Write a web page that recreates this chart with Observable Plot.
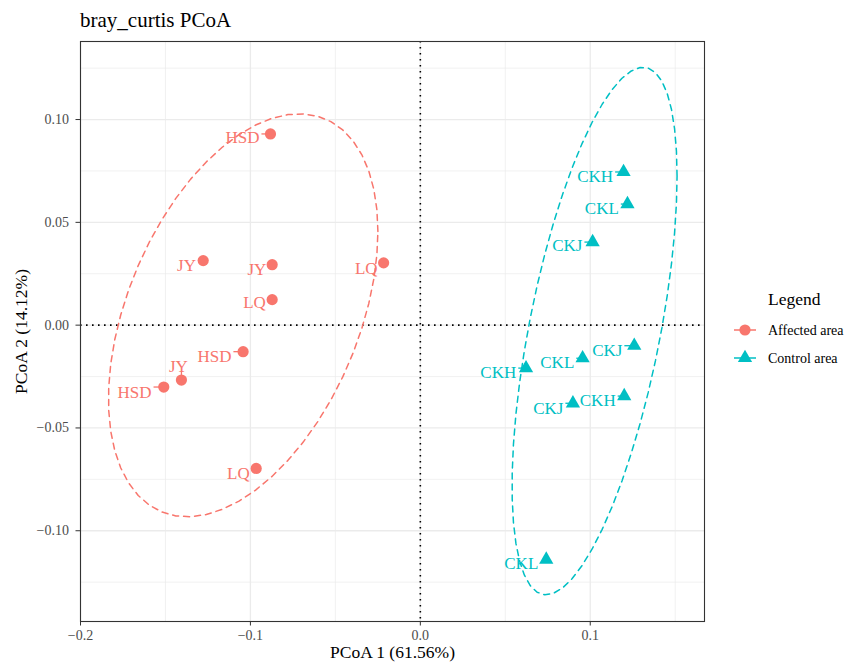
<!DOCTYPE html>
<html><head><meta charset="utf-8">
<script src="https://cdn.jsdelivr.net/npm/d3@7"></script>
<script src="https://cdn.jsdelivr.net/npm/@observablehq/plot@0.6"></script>
<style>
body{margin:0;background:#fff}
#wrap{position:relative;width:848px;height:664px;overflow:hidden}
#wrap svg{display:block}
#overlay{position:absolute;left:0;top:0}
</style>
</head><body><div id="wrap"></div>
<script>
// ---- data ----
const sampleNames = ["HSD","JY","JY","LQ","LQ","HSD","JY","HSD","LQ",
                     "CKH","CKL","CKJ","CKJ","CKL","CKH","CKJ","CKH","CKL"];
const groupNames = ["Affected area","Affected area","Affected area","Affected area","Affected area","Affected area","Affected area","Affected area","Affected area",
                    "Control area","Control area","Control area","Control area","Control area","Control area","Control area","Control area","Control area"];
const pcoa1 = [-0.0882,-0.1278,-0.0872,-0.0216,-0.0872,-0.1043,-0.1406,-0.1510,-0.0966,
               0.1196,0.1219,0.1014,0.1259,0.0955,0.0622,0.0898,0.1200,0.0741];
const pcoa2 = [0.0930,0.0314,0.0294,0.0303,0.0124,-0.0129,-0.0267,-0.0301,-0.0697,
               0.0745,0.0589,0.0404,-0.0100,-0.0161,-0.0209,-0.0380,-0.0345,-0.1140];
// repelled label positions (as placed in the reference)
const labelPcoa1 = [-0.1047,-0.1376,-0.0962,-0.0318,-0.0976,-0.1212,-0.1424,-0.1682,-0.1071,
                    0.1029,0.1068,0.0865,0.1100,0.0806,0.0459,0.0753,0.1044,0.0594];
const labelPcoa2 = [0.0912,0.0290,0.0270,0.0275,0.0109,-0.0151,-0.0200,-0.0326,-0.0720,
                    0.0725,0.0569,0.0387,-0.0124,-0.0180,-0.0231,-0.0404,-0.0367,-0.1161];
const legendGroups = ["Affected area","Control area"];
const groupColors = ["#F8766D","#00BFC4"];
const xTicks = [-0.2,-0.1,0,0.1];
const xMinor = [-0.15,-0.05,0.05,0.15];
const yTicks = [-0.10,-0.05,0,0.05,0.10];
const yMinor = [-0.125,-0.075,-0.025,0.025,0.075,0.125];
const xDomain = [-0.2, 0.16724];
const yDomain = [-0.14414, 0.13796];
const ellipseLevel = 0.9;
const titleText = "bray_curtis PCoA";
const xTitle = "PCoA 1 (61.56%)";
const yTitle = "PCoA 2 (14.12%)";
const legendTitle = "Legend";

// ---- layout ----
const W = 848, H = 664, mL = 80, mR = 144, mT = 41, mB = 43;
const FONT = "'Liberation Serif','Times New Roman',serif";
const LABEL_SIZE = 17;

const rows = sampleNames.map((s,i)=>({sample:s, group:groupNames[i], x:pcoa1[i], y:pcoa2[i], lx:labelPcoa1[i], ly:labelPcoa2[i]}));

// ---- stat_ellipse (type "t") ----
function covTrob(pts, nu=5, maxit=25, tol=0.01){
  const n = pts.length, p = 2;
  let loc = [d3.mean(pts,d=>d[0]), d3.mean(pts,d=>d[1])];
  let w = new Array(n).fill(1);
  let X;
  for (let it=0; it<maxit; it++){
    const w0 = w.slice();
    X = pts.map(d=>[d[0]-loc[0], d[1]-loc[1]]);
    const sw = d3.sum(w);
    let a=0,b=0,c=0;
    X.forEach((v,i)=>{const f=w[i]/sw; a+=f*v[0]*v[0]; b+=f*v[0]*v[1]; c+=f*v[1]*v[1];});
    const det = a*c-b*b;
    const Q = X.map(v=>(c*v[0]*v[0]-2*b*v[0]*v[1]+a*v[1]*v[1])/det);
    w = Q.map(q=>(nu+p)/(nu+q));
    const sW = d3.sum(w);
    loc = [d3.sum(pts,(d,i)=>w[i]*d[0])/sW, d3.sum(pts,(d,i)=>w[i]*d[1])/sW];
    if (w.every((v,i)=>Math.abs(v-w0[i])<tol)) break;
  }
  let a=0,b=0,c=0;
  X.forEach((v,i)=>{a+=w[i]*v[0]*v[0]; b+=w[i]*v[0]*v[1]; c+=w[i]*v[1]*v[1];});
  return {cov:[a/n,b/n,c/n], center:loc};
}
// F quantile, solved numerically
function qF(level,d1,d2){
  function betacf(a,b,x){let qab=a+b,qap=a+1,qam=a-1,c=1,d=1-qab*x/qap;if(Math.abs(d)<1e-30)d=1e-30;d=1/d;let h=d;
    for(let m=1;m<=200;m++){let m2=2*m,aa=m*(b-m)*x/((qam+m2)*(a+m2));d=1+aa*d;if(Math.abs(d)<1e-30)d=1e-30;c=1+aa/c;if(Math.abs(c)<1e-30)c=1e-30;d=1/d;h*=d*c;
      aa=-(a+m)*(qab+m)*x/((a+m2)*(qap+m2));d=1+aa*d;if(Math.abs(d)<1e-30)d=1e-30;c=1+aa/c;if(Math.abs(c)<1e-30)c=1e-30;d=1/d;const del=d*c;h*=del;if(Math.abs(del-1)<1e-12)break;}return h;}
  function lgamma(z){const g=[76.18009172947146,-86.50532032941677,24.01409824083091,-1.231739572450155,0.1208650973866179e-2,-0.5395239384953e-5];let x=z,y=z,t=x+5.5;t-=(x+0.5)*Math.log(t);let s=1.000000000190015;for(let j=0;j<6;j++)s+=g[j]/++y;return -t+Math.log(2.5066282746310005*s/x);}
  function ibeta(a,b,x){if(x<=0)return 0;if(x>=1)return 1;const bt=Math.exp(lgamma(a+b)-lgamma(a)-lgamma(b)+a*Math.log(x)+b*Math.log(1-x));
    return x<(a+1)/(a+b+2)?bt*betacf(a,b,x)/a:1-bt*betacf(b,a,1-x)/b;}
  const cdf = f=>ibeta(d1/2,d2/2,d1*f/(d1*f+d2));
  let lo=0,hi=1000;for(let i=0;i<200;i++){const mid=(lo+hi)/2;if(cdf(mid)<level)lo=mid;else hi=mid;}return (lo+hi)/2;
}
const ellipseRows = [];
legendGroups.forEach(g=>{
  const pts = rows.filter(r=>r.group===g).map(r=>[r.x,r.y]);
  const {cov,center} = covTrob(pts);
  const r11=Math.sqrt(cov[0]), r12=cov[1]/r11, r22=Math.sqrt(cov[2]-r12*r12);
  const radius = Math.sqrt(2*qF(ellipseLevel, 2, pts.length-1));
  const seg = 51;
  for(let k=0;k<=seg;k++){
    const t = k*2*Math.PI/seg, cs=Math.cos(t), sn=Math.sin(t);
    ellipseRows.push({group:g, x:center[0]+radius*cs*r11, y:center[1]+radius*(cs*r12+sn*r22)});
  }
});

// ---- repel segments (point -> nearest edge of label box) ----
const xs = d3.scaleLinear(xDomain,[mL,W-mR]);
const ys = d3.scaleLinear(yDomain,[H-mB,mT]);
const ctx = document.createElement("canvas").getContext("2d");
ctx.font = `${LABEL_SIZE}px 'Liberation Serif'`;
const segRows = [];
rows.forEach(r=>{
  const px=xs(r.x), py=ys(r.y), cx=xs(r.lx), cy=ys(r.ly);
  const hw = ctx.measureText(r.sample).width/2 + 2, hh = 5.5;
  const ex = Math.max(cx-hw, Math.min(cx+hw, px));
  const ey = Math.max(cy-hh, Math.min(cy+hh, py));
  if (Math.hypot(ex-px, ey-py) > 6) segRows.push({group:r.group, x1:r.x, y1:r.y, x2:xs.invert(ex), y2:ys.invert(ey)});
});

const minus = s=>s.replace("-","\u2212");
const colorScale = {domain:legendGroups, range:groupColors};

const plot = Plot.plot({
  width: W, height: H,
  marginLeft: mL, marginRight: mR, marginTop: mT, marginBottom: mB,
  style: {fontFamily: FONT, background: "white"},
  x: {domain: xDomain},
  y: {domain: yDomain},
  color: colorScale,
  marks: [
    Plot.ruleX(xMinor, {stroke:"#EBEBEB", strokeWidth:0.7}),
    Plot.ruleY(yMinor, {stroke:"#EBEBEB", strokeWidth:0.7}),
    Plot.ruleX(xTicks, {stroke:"#EBEBEB", strokeWidth:1.3}),
    Plot.ruleY(yTicks, {stroke:"#EBEBEB", strokeWidth:1.3}),
    Plot.ruleX([0], {stroke:"black", strokeWidth:1.6, strokeDasharray:"1.6,4.4"}),
    Plot.ruleY([0], {stroke:"black", strokeWidth:1.6, strokeDasharray:"1.6,4.4"}),
    Plot.line(ellipseRows, {x:"x", y:"y", z:"group", stroke:"group", strokeWidth:1.5, strokeDasharray:"6,5"}),
    Plot.dot(rows.filter(r=>r.group===legendGroups[0]), {x:"x", y:"y", fill:"group", r:5.6, symbol:"circle"}),
    Plot.dot(rows.filter(r=>r.group===legendGroups[1]), {x:"x", y:"y", fill:"group", r:5.3, symbol:"triangle"}),
    Plot.link(segRows, {x1:"x1", y1:"y1", x2:"x2", y2:"y2", stroke:"group", strokeWidth:1.3}),
    Plot.text(rows, {x:"lx", y:"ly", text:"sample", fill:"group", fontSize:LABEL_SIZE, fontFamily:FONT}),
    Plot.frame({stroke:"#333333", strokeWidth:1.1}),
    Plot.axisX({ticks:xTicks, tickFormat:d=>minus(d.toFixed(1)), tickSize:4.5, tickPadding:4, fontSize:14,
      stroke:"#333333", color:"#4D4D4D", label:xTitle, labelAnchor:"center", labelArrow:"none", labelOffset:36}),
    Plot.axisY({ticks:yTicks, tickFormat:d=>minus(d.toFixed(2)), tickSize:4.5, tickPadding:7, fontSize:14,
      stroke:"#333333", color:"#4D4D4D", label:yTitle, labelAnchor:"center", labelArrow:"none", labelOffset:66})
  ]
});
const wrap = document.getElementById("wrap");
wrap.appendChild(plot);
plot.querySelectorAll("[aria-label='x-axis label'] text, [aria-label='y-axis label'] text").forEach(t=>{
  t.setAttribute("font-size","17.5"); t.setAttribute("fill","black");
});

// ---- title & legend overlay ----
const ov = d3.select(wrap).append("svg").attr("id","overlay").attr("width",W).attr("height",H)
  .style("font-family",FONT);
ov.append("text").attr("x",80).attr("y",27).attr("font-size",21).attr("fill","black").text(titleText);
ov.append("text").attr("x",768).attr("y",305).attr("font-size",17.5).attr("fill","black").text(legendTitle);
legendGroups.forEach((g,i)=>{
  const cy = 330 + i*28;
  ov.append("line").attr("x1",734).attr("x2",756).attr("y1",cy).attr("y2",cy)
    .attr("stroke",groupColors[i]).attr("stroke-width",1.5);
  const sym = i===0 ? d3.symbol(d3.symbolCircle, Math.PI*5.6*5.6) : d3.symbol(d3.symbolTriangle, Math.PI*5.3*5.3);
  ov.append("path").attr("d",sym()).attr("transform",`translate(745,${cy})`).attr("fill",groupColors[i]);
  ov.append("text").attr("x",768).attr("y",cy+5).attr("font-size",14).attr("fill","black").text(g);
});
</script>
</body></html>
